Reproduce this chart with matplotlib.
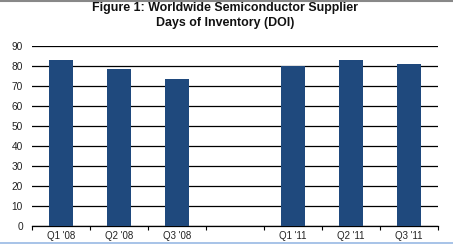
import matplotlib
matplotlib.use("Agg")
import matplotlib.pyplot as plt
import numpy as np
from matplotlib.patches import Rectangle
from matplotlib.lines import Line2D

categories = ["Q1 '08", "Q2 '08", "Q3 '08", "", "Q1 '11", "Q2 '11", "Q3 '11"]
doi_values = [83, 78.3, 73.7, np.nan, 80, 83.2, 81.2]
y_ticks = [0, 10, 20, 30, 40, 50, 60, 70, 80, 90]

plt.rcParams['font.family'] = ['Liberation Sans', 'DejaVu Sans']

W, H = 453, 244
fig = plt.figure(figsize=(W / 100, H / 100), dpi=100)
ax = fig.add_axes([32 / W, (H - 226) / H, (438 - 32) / W, 180 / H])

x = np.arange(len(categories))
vals = np.array(doi_values, dtype=float)
mask = ~np.isnan(vals)
ax.bar(x[mask], vals[mask], width=0.4, color="#1F497D", zorder=3)

ax.set_xlim(-0.5, len(categories) - 0.5)
ax.set_ylim(0, 90)
ax.set_yticks(y_ticks)
ax.set_yticklabels([str(v) for v in y_ticks], fontsize=7.3, color="#222222")
ax.yaxis.grid(True, color="black", linewidth=0.9, zorder=0)
ax.tick_params(axis="y", length=0, pad=6.5)

ax.set_xticks(x)
ax.set_xticklabels(categories, fontsize=7.0, color="#222222")
ax.set_xticks(np.arange(-0.5, len(categories), 1.0), minor=True)
ax.tick_params(axis="x", which="major", length=0, pad=3.5)
ax.tick_params(axis="x", which="minor", length=3, width=0.8, color="black")

for s in ["top", "right", "left"]:
    ax.spines[s].set_visible(False)
ax.spines["bottom"].set_linewidth(0.9)

fig.text(225 / W, 1 - 8 / H, "Figure 1: Worldwide Semiconductor Supplier",
         ha="center", va="center", fontsize=8.9, fontweight="bold", color="#111111")
fig.text(225 / W, 1 - 23 / H, "Days of Inventory (DOI)",
         ha="center", va="center", fontsize=8.9, fontweight="bold", color="#111111")

# frame decorations
fig.add_artist(Line2D([0, 1], [1 - 0.5 / H, 1 - 0.5 / H], transform=fig.transFigure,
                      color="#888888", linewidth=1.5))
fig.add_artist(Rectangle((0, 0), 1, 2.5 / H, transform=fig.transFigure,
                         facecolor="#A9C4E8", edgecolor="none", zorder=10))

fig.savefig("out.png", dpi=100)
